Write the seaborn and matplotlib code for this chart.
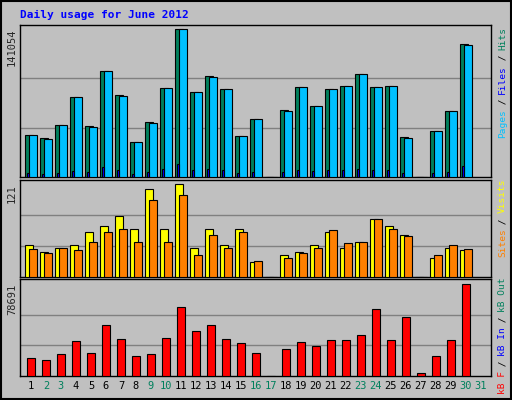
import numpy as np
import matplotlib
matplotlib.use("Agg")
import matplotlib.pyplot as plt
import seaborn as sns

days = np.arange(1, 32)
hits = [40500, 36700, 49100, 75900, 48200, 101200, 77900, 33800, 52000, 84600,
        141054, 80700, 96100, 83600, 38600, 54900, 0, 63500, 85500, 67300,
        83600, 86500, 98000, 85500, 86500, 38000, 0, 44300, 62500, 127000, np.nan]
files = [39600, 35900, 49100, 75900, 47300, 101200, 77000, 32900, 51100, 84600,
         141054, 80700, 95200, 83600, 38600, 54900, 0, 62600, 85500, 67300,
         83600, 86500, 98000, 85500, 86500, 37100, 0, 44300, 62500, 126100, np.nan]
pages = [3500, 3000, 4000, 6000, 5000, 9250, 7000, 3000, 5000, 8000,
         12100, 7000, 8000, 7000, 4000, 5000, 0, 5000, 7000, 6000,
         7000, 7000, 8000, 7000, 7000, 4000, 0, 4000, 5000, 10200, np.nan]
visits = [42, 33, 38, 42, 59, 66, 80, 63, 114, 63, 121, 38, 62, 42, 63, 20, 0,
          28, 33, 42, 58, 38, 46, 75, 66, 54, 0, 25, 38, 35, np.nan]
sites = [36, 31, 38, 35, 45, 58, 63, 46, 100, 46, 107, 29, 55, 38, 59, 21, 0,
         25, 31, 38, 61, 44, 45, 75, 62, 53, 0, 28, 42, 36, np.nan]
kbytes = [15800, 14100, 19200, 29600, 20100, 43400, 31300, 17500, 19200, 32200,
          58900, 38200, 43400, 31300, 27900, 20100, 0, 22700, 28700, 25300,
          30400, 30400, 34800, 57200, 30400, 50300, 2900, 16700, 30400, 78691, np.nan]
weekends = [2, 3, 9, 10, 16, 17, 23, 24, 30, 31]

sns.set_style("white")
plt.rcParams["font.family"] = ["DejaVu Sans Mono"]
BG = "#C0C0C0"
GREEN, CYAN, BLUE = "#00805C", "#00C0FF", "#0000FF"
YELLOW, ORANGE, RED = "#FFFF00", "#FF8000", "#FF0000"

fig = plt.figure(figsize=(5.12, 4.0), dpi=100, facecolor=BG)
W, H = 512, 400


def panel(top, bottom):
    ax = fig.add_axes([20 / W, (H - bottom) / H, 471 / W, (bottom - top) / H])
    ax.set_facecolor(BG)
    ax.set_xlim(0.27, 31.67)
    ax.set_xticks([])
    ax.set_yticks([])
    for s in ax.spines.values():
        s.set_color("black")
        s.set_linewidth(1)
    return ax


def draw(ax, x, vals, width, color, zero_line=True):
    v = np.array(vals, dtype=float)
    ok = ~np.isnan(v)
    ax.bar(x[ok], v[ok], width=width, color=color, edgecolor="black",
           linewidth=0.8, align="center", zorder=3)


def grid(ax, vmax):
    for f in (1 / 3, 2 / 3):
        ax.axhline(vmax * f, color="#808080", lw=1, zorder=1)


# top panel
ax1 = panel(25, 177)
ax1.set_ylim(0, 141054 * 152 / 148)
grid(ax1, 141054)
draw(ax1, days - 0.13, hits, 0.52, GREEN)
draw(ax1, days + 0.13, files, 0.52, CYAN)
draw(ax1, days - 0.2, pages, 0.17, BLUE)

# middle panel
ax2 = panel(180, 277)
ax2.set_ylim(0, 121 * 97 / 93)
grid(ax2, 121)
draw(ax2, days - 0.13, visits, 0.52, YELLOW)
draw(ax2, days + 0.13, sites, 0.52, ORANGE)

# bottom panel
ax3 = panel(279, 376)
ax3.set_ylim(0, 78691 * 97 / 92)
grid(ax3, 78691)
draw(ax3, days, kbytes, 0.55, RED)

# max labels
for y, txt in ((29, "141054"), (184, "121"), (284, "78691")):
    fig.text(7 / W, 1 - y / H, txt, rotation=90, ha="left", va="top", fontsize=7.5)

fig.text(20 / W, 1 - 15 / H, "Daily usage for June 2012", color=BLUE,
         fontsize=8, fontweight="bold", va="center", ha="left")

# day labels
for d in days:
    ax3.text(d, -0.1, str(d), transform=ax3.get_xaxis_transform(), ha="center",
             va="center", fontsize=7.5, color=GREEN if d in weekends else "black")


def side_label(y_bottom, parts):
    y = y_bottom
    step = 5.5
    for txt, col in parts:
        fig.text(498 / W, 1 - y / H, txt, rotation=90, color=col, fontsize=6.8,
                 ha="left", va="bottom")
        y -= step * len(txt)


side_label(138, [("Pages", CYAN), (" / ", "black"), ("Files", BLUE), (" / ", "black"), ("Hits", GREEN)])
side_label(257, [("Sites", ORANGE), (" / ", "black"), ("Visits", YELLOW)])
side_label(394, [("kB F", RED), (" / ", "black"), ("kB In", BLUE), (" / ", "black"), ("kB Out", GREEN)])

fig.add_artist(plt.Rectangle((0.002, 0.002), 0.996, 0.996, transform=fig.transFigure,
                             fill=False, edgecolor="black", lw=1.5))
fig.savefig("out.png", dpi=100, facecolor=BG)
